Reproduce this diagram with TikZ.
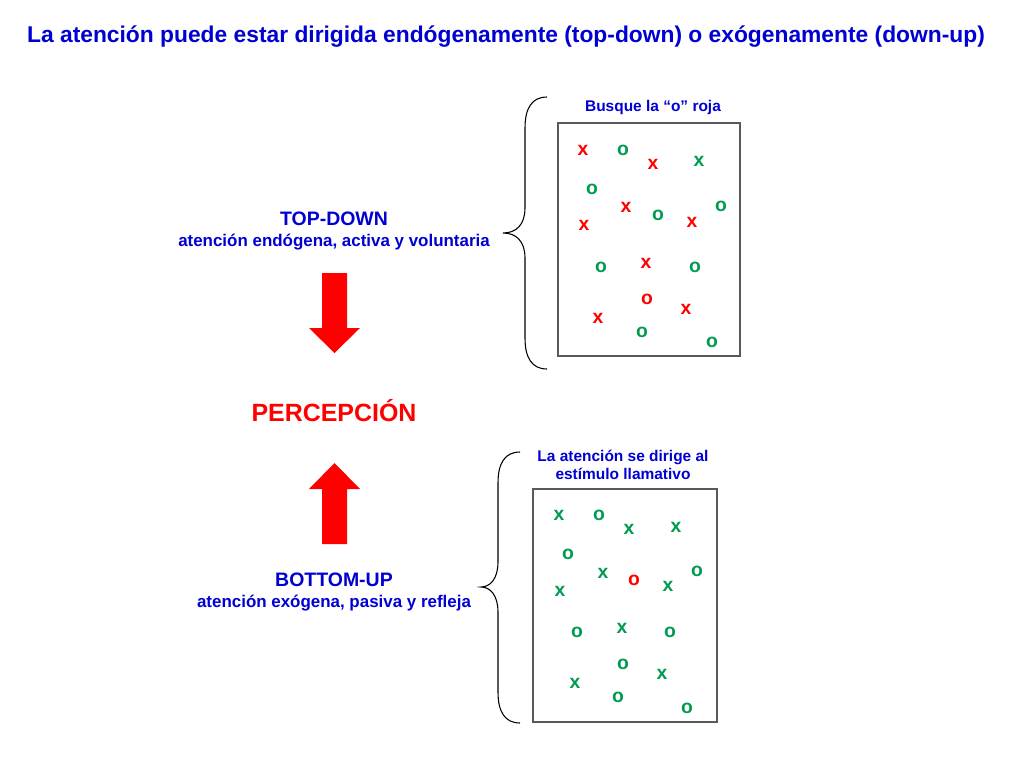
\documentclass[tikz,border=0pt]{standalone}
\usepackage{fontspec}
\setmainfont{Liberation Sans}
\usetikzlibrary{calc}
\definecolor{tblue}{RGB}{0,0,210}
\definecolor{tred}{RGB}{255,0,0}
\definecolor{tgreen}{RGB}{0,155,80}

\begin{document}
\begin{tikzpicture}[x=0.75pt, y=-0.75pt]

    \tikzstyle{titletext}=[font=\bfseries\fontsize{17.1}{20}\selectfont, text=tblue, inner sep=0pt];
    \tikzstyle{headtext}=[font=\bfseries\fontsize{14.6}{17}\selectfont, text=tblue, inner sep=0pt];
    \tikzstyle{subtext}=[font=\bfseries\fontsize{12.7}{15}\selectfont, text=tblue, inner sep=0pt];
    \tikzstyle{boxtext}=[font=\bfseries\fontsize{11.6}{13.5}\selectfont, text=tblue, inner sep=0pt, align=center];
    \tikzstyle{perctext}=[font=\bfseries\fontsize{18.7}{22}\selectfont, text=tred, inner sep=0pt];
    \tikzstyle{letter}=[font=\bfseries\fontsize{14.5}{17}\selectfont, inner sep=0pt];
    \tikzstyle{boxline}=[draw=black!65, line width=1.1pt];
    \tikzstyle{braceline}=[draw=black, line width=0.8pt];

    \useasboundingbox (0,0) rectangle (1024,768);

    \node[titletext] (title) at (506,37) {La atención puede estar dirigida endógenamente (top-down) o exógenamente (down-up)};

    % left column
    \node[headtext] (td) at (334,219) {TOP-DOWN};
    \node[subtext] (tdsub) at (334,242) {atención endógena, activa y voluntaria};
    \node[perctext] (perc) at (334,411) {PERCEPCIÓN};
    \node[headtext] (bu) at (334,580) {BOTTOM-UP};
    \node[subtext] (busub) at (334,603) {atención exógena, pasiva y refleja};

    \fill[tred] (322,273) -- (347,273) -- (347,328) -- (360,328) -- (334.5,353) -- (309,328) -- (322,328) -- cycle;
    \fill[tred] (334.5,463) -- (360,489) -- (347,489) -- (347,544) -- (322,544) -- (322,489) -- (309,489) -- cycle;

    % top box
    \node[boxtext] (cap1) at (653,107) {Busque la “o” roja};
    \coordinate (box1nw) at (558,123);
    \coordinate (box1se) at (740,356);
    \draw[boxline] (box1nw) rectangle (box1se);
    \draw[braceline] (547,97) .. controls (532,97) and (525,108) .. (525,128) -- (525,208)
        .. controls (525,225) and (516,233) .. (503,233)
        .. controls (516,233) and (525,241) .. (525,258) -- (525,338)
        .. controls (525,358) and (532,369) .. (547,369);

    \node[letter, text=tred] (a1) at (583,150) {x};
    \node[letter, text=tgreen] (a2) at (623,150) {o};
    \node[letter, text=tred] (a3) at (653,164) {x};
    \node[letter, text=tgreen] (a4) at (699,161) {x};
    \node[letter, text=tgreen] (a5) at (592,189) {o};
    \node[letter, text=tred] (a6) at (626,207) {x};
    \node[letter, text=tgreen] (a7) at (658,215) {o};
    \node[letter, text=tgreen] (a8) at (721,206) {o};
    \node[letter, text=tred] (a9) at (584,225) {x};
    \node[letter, text=tred] (a10) at (692,222) {x};
    \node[letter, text=tgreen] (a11) at (601,267) {o};
    \node[letter, text=tred] (a12) at (646,263) {x};
    \node[letter, text=tgreen] (a13) at (695,267) {o};
    \node[letter, text=tred] (a14) at (647,299) {o};
    \node[letter, text=tred] (a15) at (686,309) {x};
    \node[letter, text=tred] (a16) at (598,318) {x};
    \node[letter, text=tgreen] (a17) at (642,332) {o};
    \node[letter, text=tgreen] (a18) at (712,342) {o};

    % bottom box
    \node[boxtext] (cap2) at (623,465) {La atención se dirige al\\estímulo llamativo};
    \coordinate (box2nw) at (533,489);
    \coordinate (box2se) at (717,722);
    \draw[boxline] (box2nw) rectangle (box2se);
    \draw[braceline] (520,452) .. controls (505,452) and (498,463) .. (498,483) -- (498,562)
        .. controls (498,579) and (490,587) .. (481,587)
        .. controls (490,587) and (498,595) .. (498,612) -- (498,692)
        .. controls (498,712) and (505,723) .. (520,723);

    \node[letter, text=tgreen] (b1) at (559,515) {x};
    \node[letter, text=tgreen] (b2) at (599,515) {o};
    \node[letter, text=tgreen] (b3) at (629,529) {x};
    \node[letter, text=tgreen] (b4) at (676,527) {x};
    \node[letter, text=tgreen] (b5) at (568,554) {o};
    \node[letter, text=tgreen] (b6) at (603,573) {x};
    \node[letter, text=tred] (b7) at (634,580) {o};
    \node[letter, text=tgreen] (b8) at (697,571) {o};
    \node[letter, text=tgreen] (b9) at (560,591) {x};
    \node[letter, text=tgreen] (b10) at (668,586) {x};
    \node[letter, text=tgreen] (b11) at (577,632) {o};
    \node[letter, text=tgreen] (b12) at (622,628) {x};
    \node[letter, text=tgreen] (b13) at (670,632) {o};
    \node[letter, text=tgreen] (b14) at (623,664) {o};
    \node[letter, text=tgreen] (b15) at (662,674) {x};
    \node[letter, text=tgreen] (b16) at (575,683) {x};
    \node[letter, text=tgreen] (b17) at (618,697) {o};
    \node[letter, text=tgreen] (b18) at (687,708) {o};

\end{tikzpicture}
\end{document}
